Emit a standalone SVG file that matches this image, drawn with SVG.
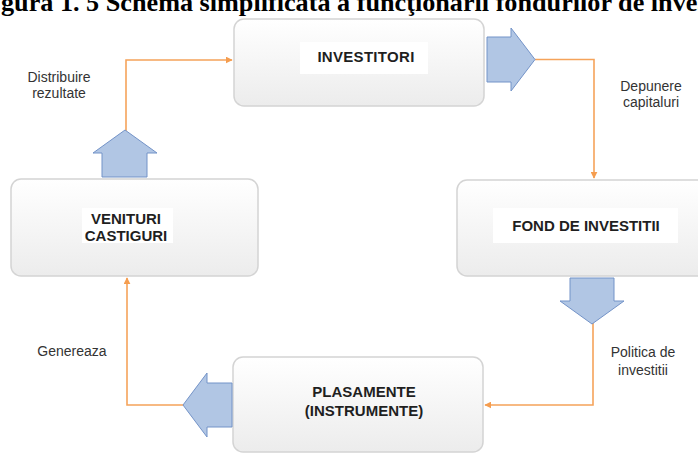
<svg xmlns="http://www.w3.org/2000/svg" width="698" height="453" viewBox="0 0 698 453">
  <defs>
    <linearGradient id="boxGrad" x1="0" y1="0" x2="0" y2="1">
      <stop offset="0" stop-color="#ffffff"/>
      <stop offset="1" stop-color="#ececec"/>
    </linearGradient>
    <marker id="oarrow" viewBox="0 0 10 10" refX="9" refY="5" markerWidth="7" markerHeight="7" markerUnits="userSpaceOnUse" orient="auto">
      <path d="M0,0 L10,5 L0,10 z" fill="#f59d4f"/>
    </marker>
  </defs>
  <style>
    .box { fill: url(#boxGrad); stroke: #d4d4d4; stroke-width: 1.5; }
    .lbl { fill: #ffffff; }
    .nt { font-family: "Liberation Sans", Arial, sans-serif; font-weight: bold; font-size: 15px; fill: #1f1f1f; text-anchor: middle; }
    .st { font-family: "Liberation Sans", Arial, sans-serif; font-size: 14px; fill: #333333; text-anchor: middle; }
    .conn { fill: none; stroke: #f5a35a; stroke-width: 1.6; }
    .blk { fill: #b1c6e4; stroke: #7393c8; stroke-width: 1; }
    .title { font-family: "Liberation Serif", "Times New Roman", serif; font-weight: bold; font-size: 26.2px; fill: #000000; }
  </style>
  <rect width="698" height="453" fill="#ffffff"/>
  <text class="title" x="1" y="11">gura 1. 5 Schema simplificată a funcţionării fondurilor de inves</text>

  <g id="connectors">
    <path class="conn" d="M126,131 L126,60 L232,60" marker-end="url(#oarrow)"/>
    <path class="conn" d="M535,59.5 L594,59.5 L594,178" marker-end="url(#oarrow)"/>
    <path class="conn" d="M593,323 L593,405 L485,405" marker-end="url(#oarrow)"/>
    <path class="conn" d="M183,405 L127,405 L127,278" marker-end="url(#oarrow)"/>
  </g>

  <g id="investitori">
    <rect class="box" x="234" y="19" width="250" height="87" rx="10"/>
    <rect class="lbl" x="300" y="42" width="128" height="32"/>
    <text class="nt" x="366" y="62" letter-spacing="0.3">INVESTITORI</text>
  </g>
  <g id="fond">
    <rect class="box" x="457" y="180" width="262" height="96" rx="10"/>
    <rect class="lbl" x="493" y="208" width="185" height="35"/>
    <text class="nt" x="586" y="231">FOND DE INVESTITII</text>
  </g>
  <g id="venituri">
    <rect class="box" x="11" y="179" width="247" height="97" rx="10"/>
    <rect class="lbl" x="82" y="208" width="91" height="35"/>
    <text class="nt" x="126" y="224">VENITURI</text>
    <text class="nt" x="126" y="241">CASTIGURI</text>
  </g>
  <g id="plasamente">
    <rect class="box" x="233" y="357" width="250" height="95" rx="10"/>
    <text class="nt" x="364" y="397">PLASAMENTE</text>
    <text class="nt" x="364" y="416">(INSTRUMENTE)</text>
  </g>

  <g id="block-arrows">
    <polygon class="blk" points="487,37 511,37 511,28 535,59.5 511,91 511,82 487,82"/>
    <polygon class="blk" points="570,278 614,278 614,301 624,301 592,324 560,301 570,301"/>
    <polygon class="blk" points="232,383 207,383 207,373 183,405 207,437 207,427 232,427"/>
    <polygon class="blk" points="102,177 147,177 147,153 157,153 125,130 93,153 102,153"/>
  </g>

  <g id="labels">
    <text class="st" x="59" y="82">Distribuire</text>
    <text class="st" x="59" y="98">rezultate</text>
    <text class="st" x="651" y="91">Depunere</text>
    <text class="st" x="651" y="107">capitaluri</text>
    <text class="st" x="643" y="357">Politica de</text>
    <text class="st" x="643" y="375">investitii</text>
    <text class="st" x="72" y="356">Genereaza</text>
  </g>
</svg>
